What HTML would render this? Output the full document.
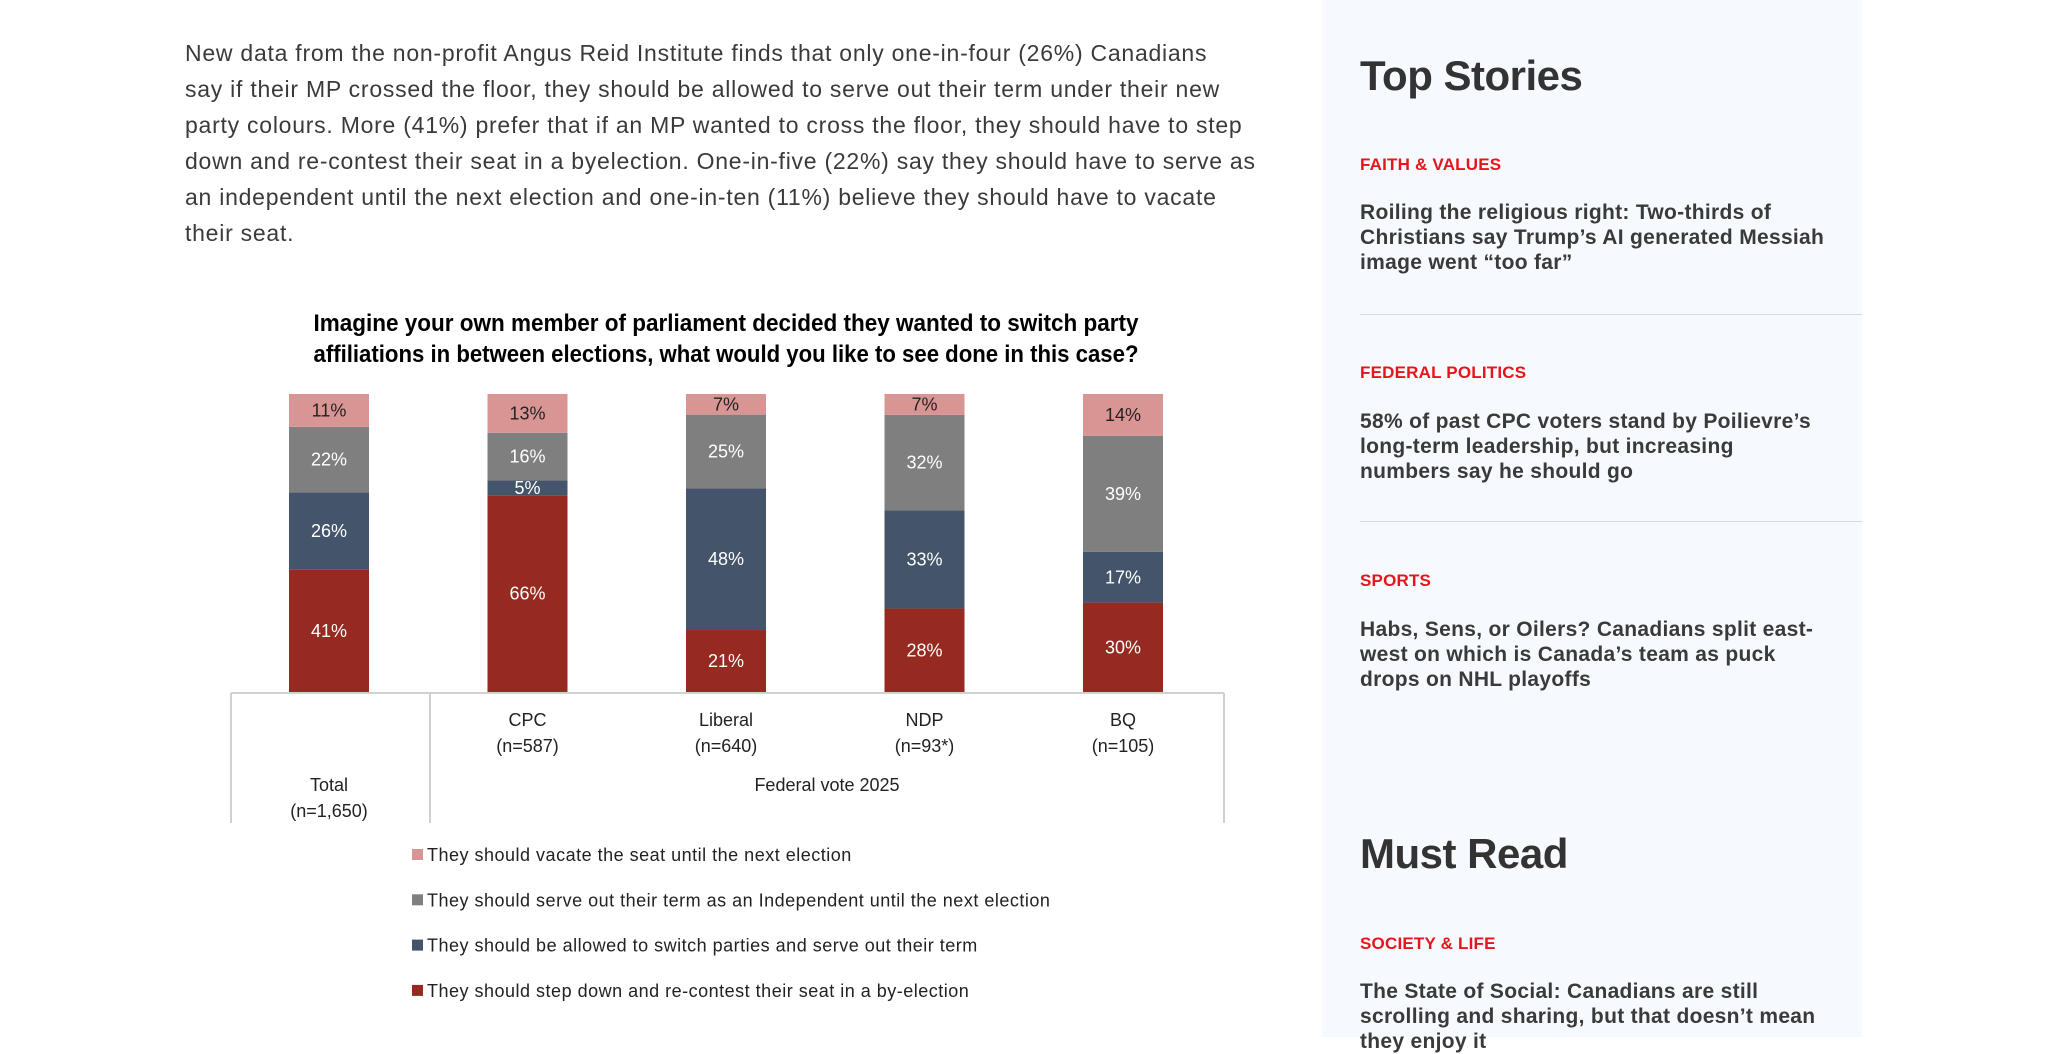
<!DOCTYPE html>
<html><head><meta charset="utf-8"><style>
body{margin:0;width:2048px;height:1037px;overflow:hidden;background:#fff;font-family:"Liberation Sans",sans-serif;position:relative}
.p{position:absolute;left:185px;top:35px;width:1300px;white-space:nowrap;font-size:23px;line-height:36px;color:#3a3a3a;letter-spacing:0.75px}
.side{position:absolute;left:1322px;top:0;width:540px;height:1037px;background:#f6f9fd}
.h2{position:absolute;left:1360px;font-size:42px;font-weight:bold;color:#333;letter-spacing:-0.5px}
.cat{position:absolute;left:1360px;font-size:17px;font-weight:bold;color:#e8141c;letter-spacing:0.2px}
.hl{position:absolute;left:1360px;width:475px;font-size:21px;line-height:25px;font-weight:bold;color:#3a3a3a;letter-spacing:0.3px}
.div{position:absolute;left:1360px;width:502px;height:1px;background:#d6dbe0}
</style></head><body>
<div class="p">New data from the non-profit Angus Reid Institute finds that only one-in-four (26%) Canadians<br>say if their MP crossed the floor, they should be allowed to serve out their term under their new<br>party colours. More (41%) prefer that if an MP wanted to cross the floor, they should have to step<br>down and re-contest their seat in a byelection. One-in-five (22%) say they should have to serve as<br>an independent until the next election and one-in-ten (11%) believe they should have to vacate<br>their seat.</div>

<svg id="chart" style="position:absolute;left:0;top:0" width="1300" height="1037" font-family="Liberation Sans, sans-serif">
<text x="726" y="331" text-anchor="middle" font-size="24" font-weight="bold" fill="#000" textLength="825" lengthAdjust="spacingAndGlyphs">Imagine your own member of parliament decided they wanted to switch party</text>
<text x="726" y="362" text-anchor="middle" font-size="24" font-weight="bold" fill="#000" textLength="825" lengthAdjust="spacingAndGlyphs">affiliations in between elections, what would you like to see done in this case?</text>
<g id="bars"></g>
<g stroke="#d0d0d0" stroke-width="2" fill="none">
<line x1="231" y1="693" x2="1224" y2="693"/>
<line x1="231" y1="693" x2="231" y2="823"/>
<line x1="430" y1="693" x2="430" y2="823"/>
<line x1="1224" y1="693" x2="1224" y2="823"/>
</g>
<g id="xlabels" font-size="18" fill="#222" text-anchor="middle"></g>
<text x="329" y="791" text-anchor="middle" font-size="18" fill="#222">Total</text>
<text x="329" y="817" text-anchor="middle" font-size="18" fill="#222">(n=1,650)</text>
<text x="827" y="791" text-anchor="middle" font-size="18" fill="#222">Federal vote 2025</text>
<g id="legend" font-size="18" fill="#222" letter-spacing="0.5"></g>
</svg>

<div class="side"></div>
<div class="h2" style="top:52px">Top Stories</div>
<div class="cat" style="top:155px">FAITH &amp; VALUES</div>
<div class="hl" style="top:200px">Roiling the religious right: Two-thirds of Christians say Trump’s AI generated Messiah image went “too far”</div>
<div class="div" style="top:314px"></div>
<div class="cat" style="top:363px">FEDERAL POLITICS</div>
<div class="hl" style="top:409px;width:460px">58% of past CPC voters stand by Poilievre’s long-term leadership, but increasing numbers say he should go</div>
<div class="div" style="top:521px"></div>
<div class="cat" style="top:571px">SPORTS</div>
<div class="hl" style="top:617px">Habs, Sens, or Oilers? Canadians split east-west on which is Canada’s team as puck drops on NHL playoffs</div>
<div class="h2" style="top:830px">Must Read</div>
<div class="cat" style="top:934px">SOCIETY &amp; LIFE</div>
<div class="hl" style="top:979px">The State of Social: Canadians are still scrolling and sharing, but that doesn’t mean they enjoy it</div>

<script>
const categories = ["Total","CPC","Liberal","NDP","BQ"];
const sampleSizes = ["(n=1,650)","(n=587)","(n=640)","(n=93*)","(n=105)"];
const stepDown = [41,66,21,28,30];
const switchParties = [26,5,48,33,17];
const independent = [22,16,25,32,39];
const vacate = [11,13,7,7,14];
const seriesNames = ["They should vacate the seat until the next election","They should serve out their term as an Independent until the next election","They should be allowed to switch parties and serve out their term","They should step down and re-contest their seat in a by-election"];

const NS="http://www.w3.org/2000/svg";
const plotTop=394, plotBottom=692, x0=329, step=198.5, barW=80;
const xPos=i=>x0+i*step;
const series=[stepDown,switchParties,independent,vacate];
const colors=["#962a20","#44546a","#7f7f7f","#d99594"];
const labelColors=["#fff","#fff","#fff","#222"];
const names=["bar-step-down","bar-switch-parties","bar-independent","bar-vacate"];
const bars=document.getElementById('bars');
categories.forEach((c,i)=>{
  let total=series.reduce((a,s)=>a+s[i],0);
  const yScale=v=>v/total*(plotBottom-plotTop);
  let cum=0;
  series.forEach((s,k)=>{
    const h=yScale(s[i]);
    const y=plotBottom-yScale(cum)-h;
    const r=document.createElementNS(NS,'rect');
    r.setAttribute('x',xPos(i)-barW/2);r.setAttribute('y',y);r.setAttribute('width',barW);r.setAttribute('height',h);r.setAttribute('fill',colors[k]);
    
    
    bars.appendChild(r);
    const t=document.createElementNS(NS,'text');
    t.setAttribute('x',xPos(i));t.setAttribute('y',y+h/2+6);t.setAttribute('text-anchor','middle');t.setAttribute('font-size','18');t.setAttribute('fill',labelColors[k]);
    t.textContent=s[i]+'%';
    
    
    bars.appendChild(t);
    cum+=s[i];
  });
});
const xl=document.getElementById('xlabels');
categories.forEach((c,i)=>{
  if(i===0)return;
  [[c,726],[sampleSizes[i],752]].forEach(([txt,y])=>{
    const t=document.createElementNS(NS,'text');
    t.setAttribute('x',xPos(i));t.setAttribute('y',y);t.textContent=txt;
    
    
    xl.appendChild(t);
  });
});
const lg=document.getElementById('legend');
const legColors=["#d99594","#7f7f7f","#44546a","#962a20"];
seriesNames.forEach((n,k)=>{
  const y=855+k*45.3;
  const r=document.createElementNS(NS,'rect');
  r.setAttribute('x',412);r.setAttribute('y',y-6);r.setAttribute('width',11);r.setAttribute('height',11);r.setAttribute('fill',legColors[k]);
  
  
  lg.appendChild(r);
  const t=document.createElementNS(NS,'text');
  t.setAttribute('x',427);t.setAttribute('y',y+6);t.textContent=n;
  
  
  lg.appendChild(t);
});
</script>
</body></html>
